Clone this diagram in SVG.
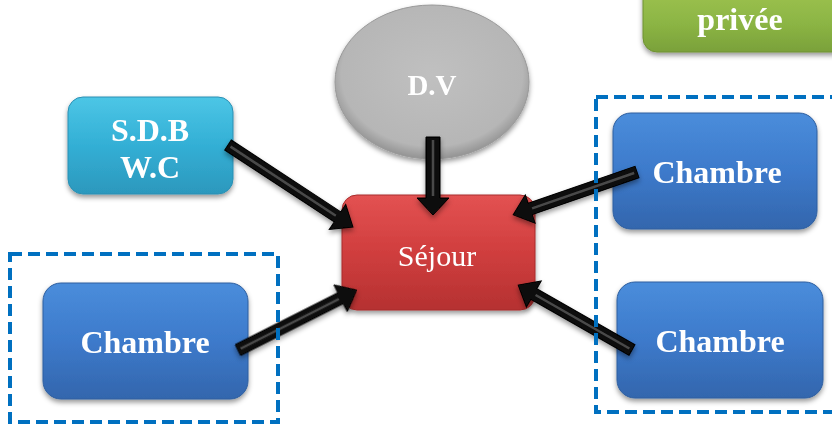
<svg xmlns="http://www.w3.org/2000/svg" width="832" height="425" viewBox="0 0 832 425">
<defs>
<linearGradient id="gBlue" x1="0" y1="0" x2="0" y2="1"><stop offset="0" stop-color="#4a8ddb"/><stop offset="0.5" stop-color="#3d7acb"/><stop offset="1" stop-color="#3366ad"/></linearGradient>
<linearGradient id="gCyan" x1="0" y1="0" x2="0" y2="1"><stop offset="0" stop-color="#4cc6e6"/><stop offset="0.5" stop-color="#33afd5"/><stop offset="1" stop-color="#2c98bd"/></linearGradient>
<linearGradient id="gRed" x1="0" y1="0" x2="0" y2="1"><stop offset="0" stop-color="#e35252"/><stop offset="0.5" stop-color="#d03e3e"/><stop offset="1" stop-color="#b53131"/></linearGradient>
<linearGradient id="gGreen" x1="0" y1="0" x2="0" y2="1"><stop offset="0" stop-color="#a2c653"/><stop offset="0.6" stop-color="#8cb544"/><stop offset="1" stop-color="#7aa13a"/></linearGradient>
<radialGradient id="gGray" cx="0.5" cy="0.45" r="0.55"><stop offset="0" stop-color="#c0c0c0"/><stop offset="0.85" stop-color="#b6b6b6"/><stop offset="1" stop-color="#939393"/></radialGradient>
<filter id="sh" x="-20%" y="-20%" width="140%" height="150%"><feDropShadow dx="0" dy="3" stdDeviation="2.5" flood-color="#000" flood-opacity="0.4"/></filter>
</defs>
<style>
.bold{font-family:"Liberation Serif","Times New Roman",serif;font-weight:bold;font-size:32px;fill:#fff;text-anchor:middle}
.reg{font-family:"Liberation Serif","Times New Roman",serif;font-size:30px;fill:#fff;text-anchor:middle}
.arrow{fill:#0d0d0d;stroke:#000;stroke-width:1}
.hl{stroke:#4a4a4a;stroke-width:2.5;fill:none}
.dash{fill:none;stroke:#0070c0;stroke-width:4;stroke-dasharray:12 6}
.blue{fill:url(#gBlue);stroke:#2f5f9f;stroke-width:1}
</style>

<g id="privee" filter="url(#sh)">
<rect x="643" y="-20" width="205" height="72" rx="14" fill="url(#gGreen)" stroke="#6e9134" stroke-width="1"/>
<text class="bold" x="740" y="30">privée</text>
</g>

<g id="dv" filter="url(#sh)">
<ellipse cx="432" cy="82" rx="97" ry="77" fill="url(#gGray)" stroke="#999" stroke-width="1"/>
<text class="bold" x="432" y="95" style="font-size:29px">D.V</text>
</g>

<g id="sdb" filter="url(#sh)">
<rect x="68" y="97" width="165" height="97" rx="15" fill="url(#gCyan)" stroke="#2a8fb3" stroke-width="1"/>
<text class="bold" x="150" y="141">S.D.B</text>
<text class="bold" x="150" y="178">W.C</text>
</g>

<g id="sejour" filter="url(#sh)">
<rect x="342" y="195" width="193" height="115" rx="15" fill="url(#gRed)" stroke="#a82c2c" stroke-width="1"/>
<text class="reg" x="437" y="266">Séjour</text>
</g>

<g id="chambre-left" filter="url(#sh)">
<rect class="blue" x="43" y="283" width="205" height="116" rx="18"/>
<text class="bold" x="145" y="353">Chambre</text>
</g>

<g id="chambre-right-top" filter="url(#sh)">
<rect class="blue" x="613" y="113" width="204" height="116" rx="18"/>
<text class="bold" x="717" y="183">Chambre</text>
</g>

<g id="chambre-right-bottom" filter="url(#sh)">
<rect class="blue" x="617" y="282" width="206" height="116" rx="18"/>
<text class="bold" x="720" y="352">Chambre</text>
</g>

<g id="connectors" filter="url(#sh)">
<g transform="translate(228,145) rotate(33.3)">
<path class="arrow" d="M0,-6 L131,-6 L131,-15 L149.5,0 L131,15 L131,6 L0,6 Z"/>
<line class="hl" x1="3" y1="0" x2="129" y2="0"/>
</g>
<g transform="translate(433,137) rotate(90)">
<path class="arrow" d="M0,-7 L61,-7 L61,-16 L78,0 L61,16 L61,7 L0,7 Z"/>
<line class="hl" x1="3" y1="0" x2="59" y2="0"/>
</g>
<g transform="translate(637,172) rotate(160.9)">
<path class="arrow" d="M0,-6 L113,-6 L113,-15 L131,0 L113,15 L113,6 L0,6 Z"/>
<line class="hl" x1="3" y1="0" x2="111" y2="0"/>
</g>
<g transform="translate(632,350) rotate(-150.3)">
<path class="arrow" d="M0,-6 L113,-6 L113,-15 L131,0 L113,15 L113,6 L0,6 Z"/>
<line class="hl" x1="3" y1="0" x2="111" y2="0"/>
</g>
<g transform="translate(238,350) rotate(-26.8)">
<path class="arrow" d="M0,-6 L115,-6 L115,-15 L133,0 L115,15 L115,6 L0,6 Z"/>
<line class="hl" x1="3" y1="0" x2="113" y2="0"/>
</g>
</g>

<g id="groups">
<rect class="dash" x="10" y="254" width="268" height="168"/>
<rect class="dash" x="596" y="97" width="250" height="315"/>
</g>
</svg>
